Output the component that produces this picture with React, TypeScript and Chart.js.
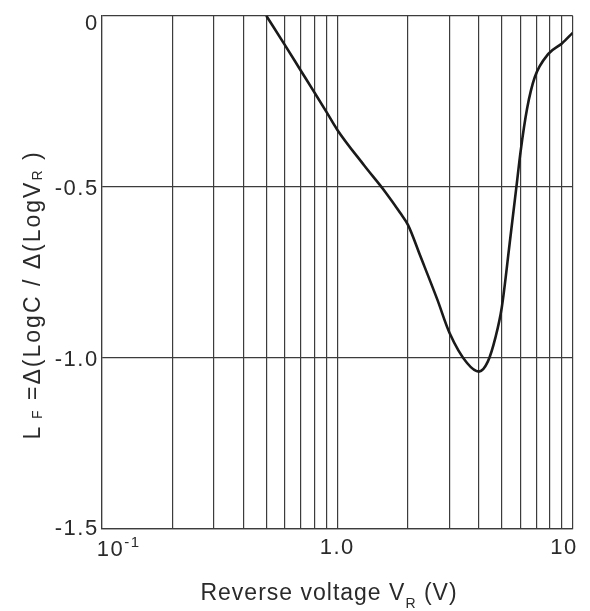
import React, { useEffect, useRef } from 'react';
import { Chart, registerables } from 'chart.js';

Chart.register(...registerables);

// Reverse voltage V_R (V)
const voltage = [0.5, 0.6, 0.7, 0.8, 0.9, 1.0, 1.3, 1.6, 1.85, 2.0, 2.25, 2.66, 3.0, 3.56, 4.0, 4.36, 4.7, 5.0, 5.4, 5.8, 6.0, 6.4, 6.9, 7.9, 9.0, 10];
// L_F = Δ(LogC)/Δ(LogV_R)
const lf = [0, -0.086, -0.16, -0.224, -0.281, -0.333, -0.437, -0.515, -0.576, -0.612, -0.701, -0.829, -0.927, -1.015, -1.04, -1.011, -0.94, -0.852, -0.665, -0.486, -0.4, -0.272, -0.18, -0.111, -0.081, -0.05];

const xGridValues = [0.1, 0.2, 0.3, 0.4, 0.5, 0.6, 0.7, 0.8, 0.9, 1, 2, 3, 4, 5, 6, 7, 8, 9, 10];
const yTickValues = [0, -0.5, -1.0, -1.5];
const yTickLabels = ['0', '-0.5', '-1.0', '-1.5'];
const xTickValues = [0.1, 1, 10];
const xTickLabels = ['10', '1.0', '10'];
const xTickSuper = ['-1', '', ''];

const FONT = '"Liberation Sans", Arial, Helvetica, sans-serif';
const TEXT = '#2a2a2a';
const GRID = '#3c3c3c';

type Seg = { t: string; size: number; dy: number };

function segWidth(ctx: CanvasRenderingContext2D, segs: Seg[]) {
  let w = 0;
  for (const s of segs) {
    ctx.font = `${s.size}px ${FONT}`;
    w += ctx.measureText(s.t).width;
  }
  return w;
}

function drawSegs(ctx: CanvasRenderingContext2D, segs: Seg[], x: number, y: number) {
  let cx = x;
  for (const s of segs) {
    ctx.font = `${s.size}px ${FONT}`;
    ctx.fillText(s.t, cx, y + s.dy);
    cx += ctx.measureText(s.t).width;
  }
}

const textPlugin = {
  id: 'customText',
  afterDraw(chart: any) {
    const ctx: CanvasRenderingContext2D = chart.ctx;
    const area = chart.chartArea;
    const xs = chart.scales.x;
    const ys = chart.scales.y;
    ctx.save();
    ctx.fillStyle = TEXT;
    (ctx as any).letterSpacing = '1.5px';
    ctx.textAlign = 'left';
    ctx.textBaseline = 'alphabetic';

    // y tick labels
    yTickValues.forEach((v, i) => {
      const segs = [{ t: yTickLabels[i], size: 22, dy: 0 }];
      const w = segWidth(ctx, segs);
      let py = ys.getPixelForValue(v);
      py = Math.min(Math.max(py, area.top + 6), area.bottom - 2);
      drawSegs(ctx, segs, area.left - 3 - w, py + 8);
    });

    // x tick labels
    xTickValues.forEach((v, i) => {
      const segs: Seg[] = [{ t: xTickLabels[i], size: 22, dy: 0 }];
      if (xTickSuper[i]) segs.push({ t: xTickSuper[i], size: 15, dy: -9 });
      const w = segWidth(ctx, segs);
      const px = xs.getPixelForValue(v);
      let left = px - w / 2;
      left = Math.max(left, area.left - 5);
      left = Math.min(left, area.right + 5 - w);
      drawSegs(ctx, segs, left, area.bottom + 25 + (i === 0 ? 2 : 0));
    });

    // x title
    (ctx as any).letterSpacing = '1px';
    const xt: Seg[] = [
      { t: 'Reverse voltage V', size: 23, dy: 0 },
      { t: 'R', size: 14, dy: 8 },
      { t: ' (V)', size: 23, dy: 0 },
    ];
    const xw = segWidth(ctx, xt);
    drawSegs(ctx, xt, 329 - xw / 2, 600);

    // y title (rotated)
    (ctx as any).letterSpacing = '2px';
    const yt: Seg[] = [
      { t: 'L', size: 23, dy: 0 },
      { t: ' F', size: 14, dy: 2 },
      { t: ' =Δ(LogC / Δ(LogV', size: 23, dy: 0 },
      { t: 'R', size: 14, dy: 2 },
      { t: ' )', size: 23, dy: 0 },
    ];
    const yw = segWidth(ctx, yt);
    ctx.translate(40, 295);
    ctx.rotate(-Math.PI / 2);
    drawSegs(ctx, yt, -yw / 2, 0);
    ctx.restore();
  },
};

export default function App() {
  const ref = useRef<HTMLCanvasElement | null>(null);
  useEffect(() => {
    if (!ref.current) return;
    const chart = new Chart(ref.current, {
      type: 'line',
      data: {
        datasets: [
          {
            data: voltage.map((v, i) => ({ x: v, y: lf[i] })),
            borderColor: '#1a1a1a',
            borderWidth: 2.6,
            pointRadius: 0,
            fill: false,
            cubicInterpolationMode: 'monotone',
          },
        ],
      },
      options: {
        animation: false,
        responsive: true,
        maintainAspectRatio: false,
        layout: { padding: { left: 0, top: 15.7, right: 17.3, bottom: 0 } },
        plugins: { legend: { display: false }, tooltip: { enabled: false } },
        scales: {
          x: {
            type: 'logarithmic',
            min: 0.1,
            max: 10,
            afterBuildTicks: (s: any) => {
              s.ticks = xGridValues.map((v) => ({ value: v }));
            },
            afterFit: (s: any) => {
              s.height = 82;
            },
            ticks: { display: false },
            grid: { color: GRID, lineWidth: 1.2, drawTicks: false },
            border: { color: GRID, width: 1.2 },
          },
          y: {
            type: 'linear',
            min: -1.5,
            max: 0,
            afterBuildTicks: (s: any) => {
              s.ticks = yTickValues.map((v) => ({ value: v }));
            },
            afterFit: (s: any) => {
              s.width = 101.7;
            },
            ticks: { display: false },
            grid: { color: GRID, lineWidth: 1.2, drawTicks: false },
            border: { color: GRID, width: 1.2 },
          },
        },
      } as any,
      plugins: [textPlugin],
    });
    return () => chart.destroy();
  }, []);
  return (
    <div style={{ position: 'fixed', left: 0, top: 0, width: 590, height: 611, background: '#fff' }}>
      <canvas ref={ref} />
    </div>
  );
}
